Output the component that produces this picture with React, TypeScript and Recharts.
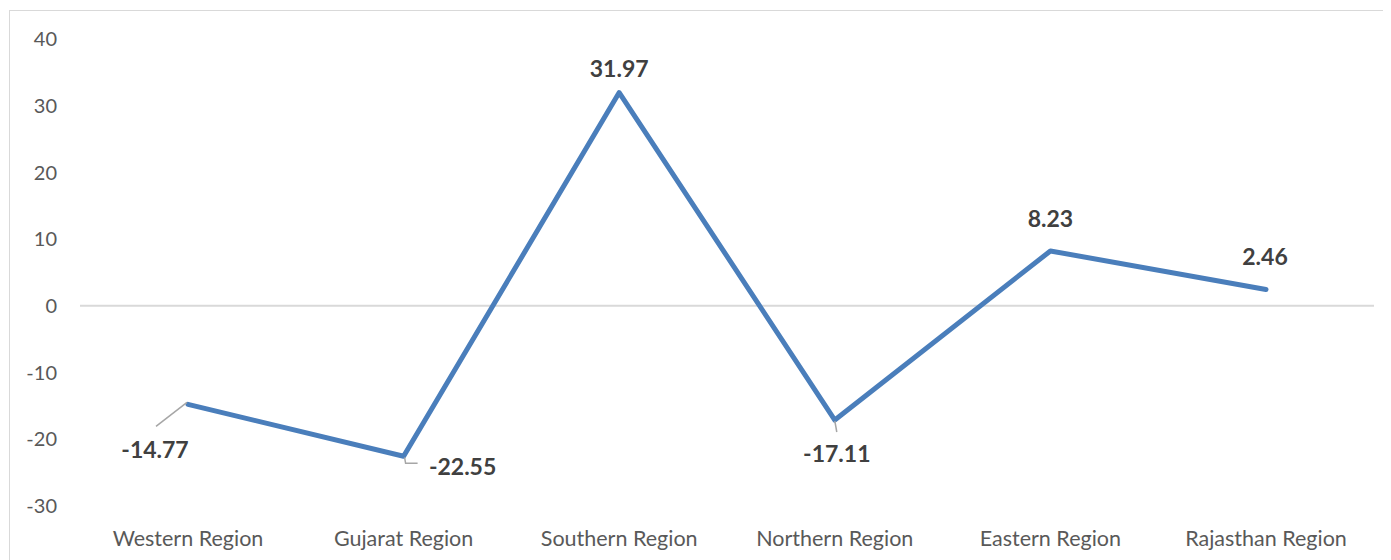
import React from "react";
import { LineChart, Line, XAxis, YAxis, ReferenceLine, LabelList } from "recharts";

// Regional change values
const regions = [
  "Western Region",
  "Gujarat Region",
  "Southern Region",
  "Northern Region",
  "Eastern Region",
  "Rajasthan Region",
];
const changes = [-14.77, -22.55, 31.97, -17.11, 8.23, 2.46];
const yTicks = [-30, -20, -10, 0, 10, 20, 30, 40];

const data = regions.map((region, i) => ({ region, value: changes[i] }));

// Placement of each data label relative to its point (dx, dy of text center),
// plus an optional leader line drawn from the point.
type Placement = { dx: number; dy: number; leader?: number[][] };
const placements: Placement[] = [
  { dx: -33, dy: 45, leader: [[-1, -2], [-32, 22]] },
  { dx: 59, dy: 10, leader: [[1, 1], [2, 7], [14, 7]] },
  { dx: 0, dy: -25 },
  { dx: 2, dy: 33, leader: [[0, 1], [2, 12]] },
  { dx: 0, dy: -33 },
  { dx: -1, dy: -33 },
];

const FONT = "Lato, 'Open Sans', sans-serif";

const renderLabel = (props: any) => {
  const { x, y, value, index } = props;
  const p = placements[index] || { dx: 0, dy: -25 };
  const cx = x + p.dx;
  const cy = y + p.dy;
  return (
    <g>
      {p.leader && (
        <polyline
          points={p.leader.map(([a, b]) => `${x + a},${y + b}`).join(" ")}
          fill="none"
          stroke="#a6a6a6"
          strokeWidth={1.5}
        />
      )}
      <text
        x={cx}
        y={cy}
        textAnchor="middle"
        dominantBaseline="central"
        fontFamily={FONT}
        fontWeight={700}
        fontSize={23}
        fill="#404040"
      >
        {value.toFixed(2)}
      </text>
    </g>
  );
};

export default function App() {
  return (
    <div
      style={{
        marginLeft: 1,
        marginTop: 2,
        width: 1380,
        height: 556,
        border: "1px solid #d9d9d9",
        background: "#fff",
      }}
    >
      <LineChart
        width={1380}
        height={555}
        data={data}
        margin={{ top: 28, right: 16, bottom: 0, left: 0 }}
      >
        <XAxis
          dataKey="region"
          axisLine={false}
          tickLine={false}
          tickSize={0}
          tickMargin={25}
          height={60}
          interval={0}
          padding={{ left: 108, right: 108 }}
          tick={{ fill: "#595959", fontSize: 21.5, fontFamily: FONT }}
        />
        <YAxis
          domain={[-30, 40]}
          ticks={yTicks}
          axisLine={false}
          tickLine={false}
          tickSize={0}
          tickMargin={23}
          width={70}
          tick={{ fill: "#595959", fontSize: 20, fontFamily: FONT }}
        />
        <ReferenceLine y={0} stroke="#d9d9d9" strokeWidth={2} />
        <Line
          type="linear"
          dataKey="value"
          stroke="#4a7ebb"
          strokeWidth={5}
          strokeLinecap="round"
          strokeLinejoin="round"
          dot={false}
          activeDot={false}
          isAnimationActive={false}
        >
          <LabelList dataKey="value" content={renderLabel} />
        </Line>
      </LineChart>
    </div>
  );
}
